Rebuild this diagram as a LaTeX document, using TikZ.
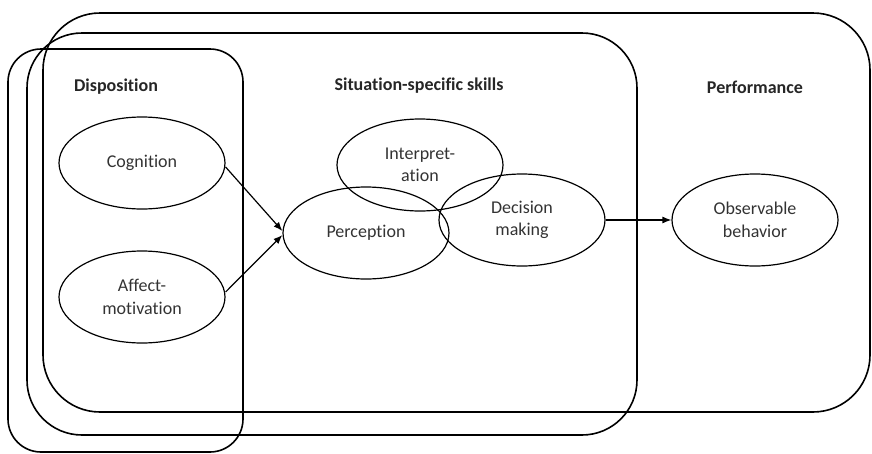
\documentclass[tikz,border=0pt]{standalone}
\usepackage{fontspec}
\setmainfont{Carlito}[Ligatures=NoCommon]
\usetikzlibrary{arrows.meta,shapes.geometric}
\tikzset{
  skill/.style={draw, ellipse, line width=1.2pt, minimum width=166pt, minimum height=92pt,
    inner sep=0pt, align=center, text=black!80, font=\fontsize{18}{22.5}\selectfont},
  boxlabel/.style={font=\fontsize{18}{22}\selectfont\bfseries, text=black!85},
  boxline/.style={line width=1.6pt, rounded corners=#1},
  link/.style={line width=1.2pt, -{Latex[length=9pt,width=7pt]}}
}

\begin{document}
\begin{tikzpicture}[x=1pt,y=-1pt]
			\useasboundingbox (0,0) rectangle (872,453);
			%%%%% START %%%%%
			\draw[boxline=57pt] (43,13) rectangle (870,412);
			\draw[boxline=55pt] (27,33) rectangle (637,435);
			\draw[boxline=33pt] (8,49) rectangle (243,452);
			
			\node[boxlabel] (disp) at (116,87) {Disposition};
			\node[boxlabel] (sit) at (419,86) {Situation-specific skills};
			\node[boxlabel] (perf) at (755,87) {Performance};
			
			\node[skill] (cog) at (142,163) {Cognition};
			\node[skill] (aff) at (142,297) {Affect-\\motivation};
			
			\node[skill] (perc) at (366,233) {Perception};
			\node[skill] (interp) at (420,165) {Interpret-\\ation};
			\node[skill] (dec) at (522,220) {Decision\\making};
			
			\node[skill] (obs) at (755,220) {Observable\\behavior};
			
			\draw[link] ([yshift=-4pt]cog.east) -- ([yshift=2pt]perc.west);
			\draw[link] ([yshift=5pt]aff.east) -- ([yshift=-2pt]perc.west);
			\draw[link] (dec.east) -- (obs.west);
			%%%%% END %%%%%
		\end{tikzpicture}
\end{document}
